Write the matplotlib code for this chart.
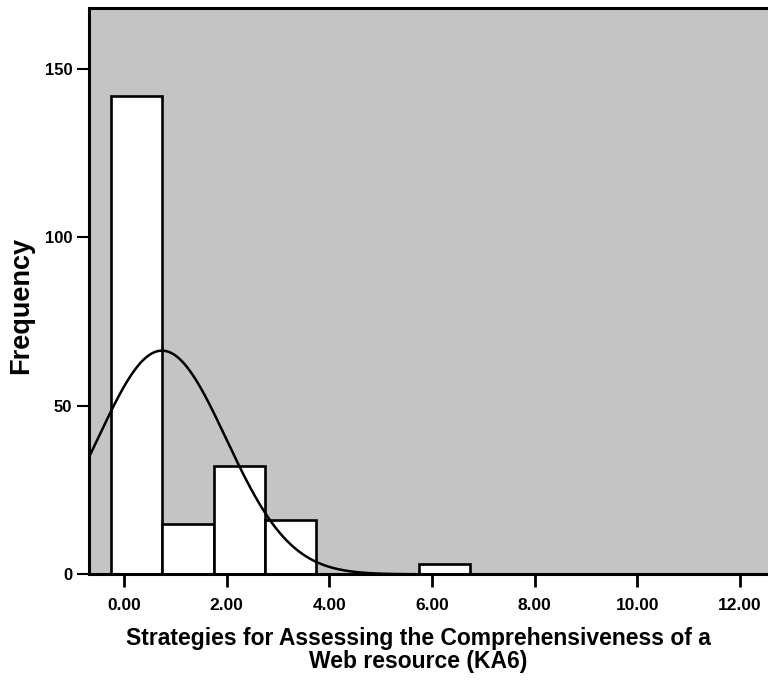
import numpy as np
import matplotlib.pyplot as plt

# histogram of KA6 scores, bins of width 1
bin_edges = [-0.25, 0.75, 1.75, 2.75, 3.75, 4.75, 5.75, 6.75]
counts = [142, 15, 32, 16, 0, 0, 3]

# fitted normal curve
curve_mean = 0.74
curve_sd = 1.25

xticks = [0, 2, 4, 6, 8, 10, 12]
yticks = [0, 50, 100, 150]

plt.rcParams['font.family'] = ['Liberation Sans', 'DejaVu Sans']
plt.rcParams['font.weight'] = 'bold'

fig = plt.figure(figsize=(7.68, 6.8), dpi=100)
ax = fig.add_axes([0.1159, 0.1554, 0.8841, 0.8335])
ax.set_facecolor('#c4c4c4')

lefts = np.array(bin_edges[:-1])
widths = np.diff(bin_edges)
ax.bar(lefts, counts, width=widths, align='edge', color='white',
       edgecolor='black', linewidth=1.9, zorder=2)

# normal curve scaled to counts * bin width
n = sum(counts)
xs = np.linspace(-0.7, 12.6, 600)
ys = n * widths[0] / (curve_sd * np.sqrt(2 * np.pi)) * np.exp(-0.5 * ((xs - curve_mean) / curve_sd) ** 2)
ax.plot(xs, ys, color='black', linewidth=1.8, zorder=3)

ax.set_xlim(-0.682, 12.55)
ax.set_ylim(0, 168.2)
ax.set_xticks(xticks)
ax.set_xticklabels([f"{t:.2f}" for t in xticks])
ax.set_yticks(yticks)

for side in ['left', 'bottom', 'top']:
    ax.spines[side].set_linewidth(2.2)
ax.spines['right'].set_visible(False)

ax.tick_params(axis='x', direction='out', length=9, width=2, pad=8, labelsize=12.5)
ax.tick_params(axis='y', direction='out', length=8.3, width=1.5, pad=3.7, labelsize=12)

ax.set_xlabel("Strategies for Assessing the Comprehensiveness of a\nWeb resource (KA6)",
              fontsize=16.5, fontweight='bold', linespacing=1.0)
ax.xaxis.set_label_coords(0.4845, -0.093, transform=ax.transAxes)
ax.xaxis.label.set_verticalalignment('top')
ax.set_ylabel("Frequency", fontsize=19.5, fontweight='bold')
ax.yaxis.set_label_coords(-0.1, 0.475)
ax.yaxis.label.set_verticalalignment('center')

fig.savefig('out.png', dpi=100)
